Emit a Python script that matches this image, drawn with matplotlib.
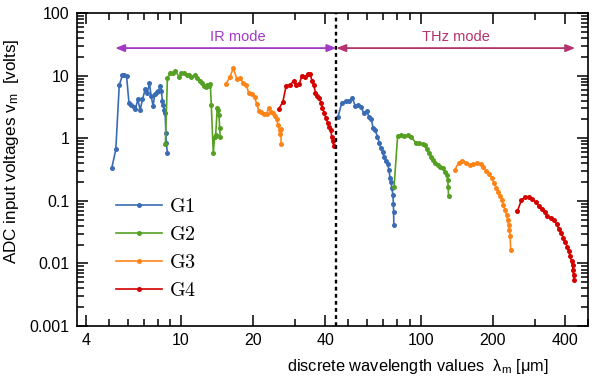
import matplotlib
matplotlib.use("Agg")
import matplotlib.pyplot as plt
from matplotlib.font_manager import FontProperties
from matplotlib.ticker import FixedLocator, NullFormatter, LogLocator

plt.rcParams['font.family'] = ['Liberation Sans', 'DejaVu Sans']
plt.rcParams['mathtext.fontset'] = 'custom'
plt.rcParams['mathtext.rm'] = 'Liberation Sans'
plt.rcParams['mathtext.it'] = 'Liberation Sans:italic'

# ---------------- data (wavelength in um, voltage in volts) ----------------
g1_ir_x = [5.14, 5.34, 5.52, 5.69, 5.80, 5.92, 6.06, 6.19, 6.33, 6.45, 6.60, 6.75, 6.90, 7.08, 7.22,
           7.38, 7.50, 7.64, 7.77, 7.92, 8.04, 8.18, 8.28, 8.36, 8.44, 8.52, 8.58, 8.64, 8.68, 8.77]
g1_ir_y = [0.338, 0.665, 7.08, 10.1, 10.2, 9.96, 3.69, 3.39, 3.19, 2.96, 4.18, 2.82, 4.18, 6.04, 5.21,
           7.53, 4.72, 3.30, 5.03, 5.41, 5.74, 6.82, 5.67, 3.88, 3.39, 2.82, 2.50, 1.20, 0.847, 0.574]

g2_ir_x = [8.60, 8.77, 9.03, 9.26, 9.47, 9.84, 10.03, 10.29, 10.56, 10.83, 11.04, 11.40, 11.66, 11.96,
           12.23, 12.47, 12.67, 12.83, 13.04, 13.25, 13.37, 13.63, 13.81, 13.95, 14.16, 14.30, 14.40,
           14.49, 14.58]
g2_ir_y = [0.80, 9.25, 10.9, 11.1, 11.9, 9.40, 11.1, 10.9, 10.3, 10.1, 9.60, 10.1, 9.06, 8.29,
           7.53, 6.90, 6.65, 7.16, 6.82, 7.26, 3.39, 0.587, 1.06, 1.14, 3.07, 2.82, 2.35, 1.44, 1.04]

g3_ir_x = [15.36, 15.96, 16.52, 17.12, 17.66, 18.18, 18.71, 19.20, 19.76, 20.28, 20.73, 21.13, 21.60,
           22.17, 22.75, 23.20, 23.64, 24.10, 24.57, 25.04, 25.43, 25.78, 25.93, 26.10, 26.17]
g3_ir_y = [7.26, 9.40, 13.1, 8.73, 9.06, 7.70, 7.08, 5.21, 5.03, 4.50, 3.48, 2.72, 2.59,
           2.41, 2.45, 3.00, 2.65, 2.50, 2.26, 2.00, 1.63, 1.35, 1.17, 1.39, 0.81]

g4_ir_x = [25.53, 26.61, 27.46, 28.53, 29.48, 30.14, 31.11, 31.93, 32.95, 33.72, 34.57, 35.24, 35.82,
           36.41, 37.12, 37.84, 38.42, 38.94, 39.70, 40.31, 40.97, 41.65, 42.17, 42.58, 42.98, 43.40]
g4_ir_y = [2.90, 3.83, 6.90, 7.08, 8.29, 7.08, 7.26, 9.86, 9.60, 10.6, 10.5, 8.29, 7.08,
           5.33, 4.72, 4.34, 3.61, 3.00, 2.50, 2.08, 1.77, 1.53, 1.35, 1.06, 0.912, 0.75]

g1_thz_x = [45.2, 46.9, 48.6, 50.1, 51.9, 53.4, 55.0, 56.6, 57.9, 59.6, 60.9, 62.3, 63.3, 64.7, 66.0,
            67.3, 68.3, 69.5, 70.3, 71.5, 72.9, 73.8, 74.5, 75.2, 75.9, 76.7, 77.0, 77.2, 77.3]
g1_thz_y = [2.20, 3.69, 3.93, 3.88, 4.34, 3.30, 3.39, 3.12, 2.50, 2.72, 2.20, 2.00, 1.47, 1.35, 1.06,
            0.847, 0.690, 0.608, 0.506, 0.432, 0.383, 0.310, 0.234, 0.202, 0.158, 0.124, 0.0879,
            0.0655, 0.0410]

g2_thz_x = [77.5, 80.2, 82.8, 85.5, 88.3, 91.1, 95.6, 98.8, 101.9, 104.2, 106.2, 108.0, 110.4, 112.5,
            114.7, 117.7, 120.4, 123.5, 126.3, 128.7, 129.9, 130.4, 130.8]
g2_thz_y = [0.168, 1.10, 1.11, 1.08, 1.11, 1.06, 0.847, 0.829, 0.81, 0.778, 0.665, 0.574, 0.506, 0.449,
            0.397, 0.373, 0.351, 0.330, 0.292, 0.258, 0.215, 0.168, 0.119]

g3_thz_x = [138.9, 144.0, 148.6, 154.4, 160.5, 166.3, 172.8, 178.4, 183.0, 187.9, 193.4, 198.3, 202.9,
            207.4, 211.3, 214.8, 218.2, 221.7, 225.4, 228.9, 231.1, 233.3, 234.9, 236.5, 237.8]
g3_thz_y = [0.310, 0.406, 0.432, 0.406, 0.373, 0.387, 0.397, 0.387, 0.351, 0.303, 0.265, 0.229, 0.190,
            0.162, 0.140, 0.119, 0.103, 0.0857, 0.0713, 0.0593, 0.0493, 0.0410, 0.0342, 0.0274, 0.0164]

g4_thz_x = [253.7, 263.6, 273.2, 283.8, 292.9, 302.3, 312.3, 320.2, 329.6, 338.2, 349.1, 360.7, 369.8,
            378.4, 386.8, 394.3, 401.9, 409.7, 416.4, 420.5, 426.9, 431.1, 432.7, 435.2, 436.9]
g4_thz_y = [0.0687, 0.103, 0.116, 0.116, 0.107, 0.0946, 0.0835, 0.0739, 0.0655, 0.0578, 0.0537, 0.0493,
            0.0421, 0.0355, 0.0303, 0.0258, 0.0217, 0.0185, 0.0158, 0.0131, 0.0109, 0.0094, 0.0078,
            0.0065, 0.0054]

series_names = ["G1", "G2", "G3", "G4"]
series_colors = ["#3a6cb4", "#55a022", "#ff8418", "#d40000"]

x_ticks = [4, 10, 20, 40, 100, 200, 400]
x_ticklabels = ["4", "10", "20", "40", "100", "200", "400"]
y_ticks = [0.001, 0.01, 0.1, 1, 10, 100]
y_ticklabels = ["0.001", "0.01", "0.1", "1", "10", "100"]

mode_boundary = 44.5
ir_arrow = (5.31, 44.5)
thz_arrow = (44.5, 442)
arrow_level = 27.6

# ---------------- figure ----------------
fig = plt.figure(figsize=(6.0, 3.85), dpi=100)
ax = fig.add_axes([0.128, 0.153, 0.852, 0.813])

groups = [(g1_ir_x, g1_ir_y, g1_thz_x, g1_thz_y),
          (g2_ir_x, g2_ir_y, g2_thz_x, g2_thz_y),
          (g3_ir_x, g3_ir_y, g3_thz_x, g3_thz_y),
          (g4_ir_x, g4_ir_y, g4_thz_x, g4_thz_y)]
for (xi, yi, xt, yt), name, col in zip(groups, series_names, series_colors):
    kw = dict(color=col, lw=1.2, marker='o', ms=3.6, mew=0)
    ax.plot(xi, yi, label=r'$\mathrm{%s}$' % name, **kw)
    ax.plot(xt, yt, **kw)

ax.set_xscale('log')
ax.set_yscale('log')
ax.set_xlim(3.67, 500)
ax.set_ylim(0.001, 100)

ax.axvline(mode_boundary, color='black', lw=1.7, ls=(0, (1.6, 1.4)))

ax.annotate('', xy=(ir_arrow[0], arrow_level), xytext=(ir_arrow[1], arrow_level),
            arrowprops=dict(arrowstyle='<|-|>,head_length=0.55,head_width=0.22',
                            color='#a338c6', lw=1.3, shrinkA=0, shrinkB=0))
ax.annotate('', xy=(thz_arrow[0], arrow_level), xytext=(thz_arrow[1], arrow_level),
            arrowprops=dict(arrowstyle='<|-|>,head_length=0.55,head_width=0.22',
                            color='#b3336a', lw=1.3, shrinkA=0, shrinkB=0))
ax.text(17.2, 41.4, 'IR mode', color='#a338c6', fontsize=10.5, ha='center', va='center')
ax.text(141, 41.4, 'THz mode', color='#b3336a', fontsize=10.5, ha='center', va='center')

ax.xaxis.set_major_locator(FixedLocator(x_ticks))
ax.set_xticklabels(x_ticklabels)
ax.xaxis.set_minor_locator(LogLocator(base=10, subs=range(2, 10)))
ax.xaxis.set_minor_formatter(NullFormatter())
ax.yaxis.set_major_locator(FixedLocator(y_ticks))
ax.set_yticklabels(y_ticklabels)
ax.yaxis.set_minor_locator(LogLocator(base=10, subs=range(2, 10)))
ax.yaxis.set_minor_formatter(NullFormatter())

ax.tick_params(which='both', direction='in', top=True, right=True, width=1.1, labelsize=11.5)
ax.tick_params(which='major', length=8, pad=5)
ax.tick_params(which='minor', length=5)
for s in ax.spines.values():
    s.set_linewidth(1.2)

ax.set_xlabel(r'discrete wavelength values  λ$_\mathrm{m}$ [μm]', fontsize=11.8)
ax.xaxis.set_label_coords(0.667, -0.1)
ax.set_ylabel(r'ADC input voltages v$_\mathrm{m}$  [volts]', fontsize=12.3)
ax.yaxis.set_label_coords(-0.11, 0.56)

leg = ax.legend(loc='center left', bbox_to_anchor=(0.041, 0.249), frameon=False,
                prop=FontProperties(size=14.5, math_fontfamily='cm'),
                handlelength=2.3, labelspacing=0.45, handletextpad=0.35)

fig.savefig('out.png', dpi=100)
